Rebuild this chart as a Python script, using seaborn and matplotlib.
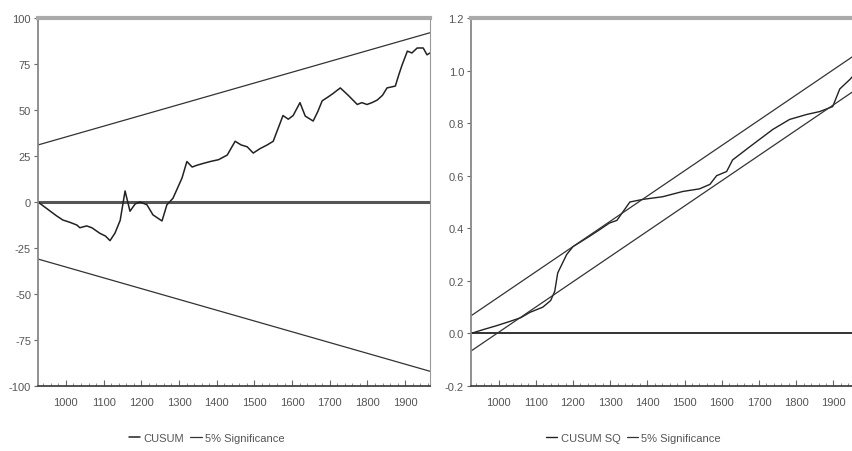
import numpy as np
import pandas as pd
import seaborn as sns
import matplotlib.pyplot as plt
from matplotlib.ticker import MultipleLocator

sns.set_style("white")
plt.rcParams["font.family"] = ["Liberation Sans Narrow", "Liberation Sans", "DejaVu Sans"]
plt.rcParams["axes.unicode_minus"] = False

# sample range (observation numbers)
obs_start, obs_end = 926, 1966

# CUSUM
cusum_obs = [926, 958, 975, 992, 1010, 1029, 1037, 1055, 1069, 1090, 1105, 1117, 1130,
             1144, 1157, 1170, 1184, 1197, 1215, 1231, 1255, 1268, 1284, 1308, 1321,
             1335, 1348, 1365, 1383, 1405, 1428, 1449, 1465, 1481, 1497, 1515, 1534,
             1550, 1563, 1576, 1590, 1603, 1621, 1635, 1656, 1668, 1680, 1695, 1709,
             1728, 1749, 1773, 1785, 1799, 1812, 1826, 1840, 1852, 1874, 1883, 1892,
             1906, 1918, 1932, 1948, 1958, 1966]
cusum_val = [0, -4.9, -7.5, -9.8, -11, -12.5, -14, -13, -14, -17, -18.5, -21, -17,
             -10, 6, -5, -1, 0, -1.5, -7, -10.3, -1.5, 2, 13, 22,
             19, 20, 21, 22, 23, 25.5, 33, 31, 30, 26.6, 29, 31,
             33, 40, 47, 45, 47, 54, 46.7, 44, 49, 55, 57, 59,
             62, 58, 53, 54, 53, 54, 55.4, 58, 62, 63, 69, 74.5,
             82, 81, 83.7, 83.7, 80, 81]
cusum_band_start, cusum_band_end = 31, 92

# CUSUM of squares
cusumsq_obs = [926, 960, 996, 1031, 1060, 1084, 1119, 1140, 1151, 1159, 1183, 1200,
               1245, 1272, 1298, 1318, 1353, 1388, 1441, 1495, 1540, 1568, 1586, 1613,
               1629, 1675, 1737, 1782, 1828, 1863, 1898, 1917, 1944, 1966]
cusumsq_val = [0, 0.015, 0.03, 0.046, 0.06, 0.08, 0.10, 0.125, 0.16, 0.23, 0.30, 0.33,
               0.37, 0.395, 0.42, 0.43, 0.50, 0.51, 0.52, 0.54, 0.55, 0.567, 0.60, 0.616,
               0.66, 0.71, 0.776, 0.814, 0.833, 0.844, 0.863, 0.93, 0.966, 1.0]
sq_band = 0.067

left_yticks = [100, 75, 50, 25, 0, -25, -50, -75, -100]
right_yticks = [1.2, 1.0, 0.8, 0.6, 0.4, 0.2, 0.0, -0.2]
xticks = list(range(1000, 2000, 100))

df_c = pd.DataFrame({"obs": cusum_obs, "value": cusum_val})
df_cb = pd.DataFrame({"obs": [obs_start, obs_end],
                      "upper": [cusum_band_start, cusum_band_end],
                      "lower": [-cusum_band_start, -cusum_band_end]})
df_s = pd.DataFrame({"obs": cusumsq_obs, "value": cusumsq_val})
df_sb = pd.DataFrame({"obs": [obs_start, obs_end],
                      "upper": [sq_band, 1 + sq_band],
                      "lower": [-sq_band, 1 - sq_band]})

fig = plt.figure(figsize=(8.52, 4.52), dpi=100)
ax1 = fig.add_axes([38 / 852, 1 - 387 / 452, 392 / 852, 368 / 452])
ax2 = fig.add_axes([471 / 852, 1 - 387 / 452, 387 / 852, 368 / 452])

txt = "#555555"
line_c = "#222222"

# left: CUSUM
ax1.axhline(0, color="#555555", lw=2.2, zorder=1)
sns.lineplot(data=df_c, x="obs", y="value", ax=ax1, color=line_c, lw=1.1, label="CUSUM")
sns.lineplot(data=df_cb, x="obs", y="upper", ax=ax1, color="#333333", lw=0.9, label="5% Significance")
sns.lineplot(data=df_cb, x="obs", y="lower", ax=ax1, color="#333333", lw=0.9)
ax1.set_ylim(-100, 100)
ax1.set_yticks(left_yticks)

# right: CUSUM of squares
ax2.axhline(0, color="#222222", lw=1.3, zorder=1)
sns.lineplot(data=df_s, x="obs", y="value", ax=ax2, color=line_c, lw=1.0, label="CUSUM SQ")
sns.lineplot(data=df_sb, x="obs", y="upper", ax=ax2, color="#333333", lw=0.9, label="5% Significance")
sns.lineplot(data=df_sb, x="obs", y="lower", ax=ax2, color="#333333", lw=0.9)
ax2.set_ylim(-0.2, 1.2)
ax2.set_yticks(right_yticks)
ax2.set_yticklabels([f"{v:.1f}" for v in right_yticks])

for ax in (ax1, ax2):
    ax.set_xlim(obs_start, obs_end)
    ax.set_xticks(xticks)
    ax.xaxis.set_minor_locator(MultipleLocator(20))
    ax.set_xlabel("")
    ax.set_ylabel("")
    ax.tick_params(axis="x", which="both", bottom=True)
    ax.tick_params(axis="y", which="major", left=True)
    ax.tick_params(axis="x", which="major", direction="in", length=4, width=0.8,
                   colors="#666666", labelcolor=txt, labelsize=8, pad=8)
    ax.tick_params(axis="x", which="minor", direction="in", length=2, width=0.6, colors="#777777")
    ax.tick_params(axis="y", direction="out", length=3, width=0.8, colors="#666666",
                   labelcolor=txt, labelsize=8, pad=2)
    ax.spines["top"].set_color("#aaaaaa")
    ax.spines["top"].set_linewidth(3)
    ax.spines["left"].set_color("#888888")
    ax.spines["left"].set_linewidth(1.3)
    ax.spines["bottom"].set_color("#444444")
    ax.spines["bottom"].set_linewidth(1.3)
    ax.spines["right"].set_color("#999999")
    ax.spines["right"].set_linewidth(0.8)

leg_kw = dict(loc="upper center", ncol=2, frameon=False, fontsize=8, labelcolor=txt,
              handlelength=1.0, handletextpad=0.3, columnspacing=0.6)
ax1.legend(bbox_to_anchor=(0.43, -0.1), **leg_kw)
ax2.legend(bbox_to_anchor=(0.42, -0.1), **leg_kw)

fig.savefig("out.png", dpi=100)
